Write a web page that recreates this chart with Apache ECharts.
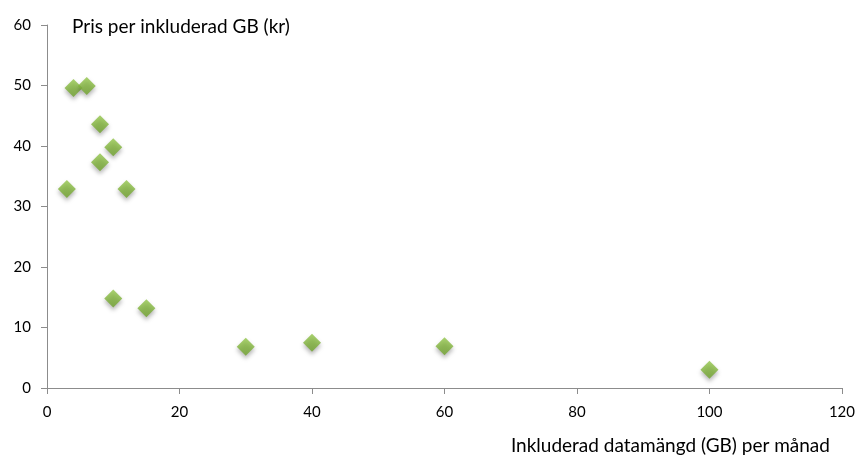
<!DOCTYPE html>
<html>
<head>
<meta charset="utf-8">
<script src="https://cdn.jsdelivr.net/npm/echarts@6/dist/echarts.min.js"></script>
<style>html,body{margin:0;padding:0;background:#fff}#c{width:858px;height:462px}</style>
</head>
<body>
<div id="c"></div>
<script>
const xValues = [3, 4, 6, 8, 8, 10, 12, 10, 15, 30, 40, 60, 100];
const yValues = [32.9, 49.6, 49.9, 43.6, 37.3, 39.8, 32.9, 14.8, 13.2, 6.8, 7.5, 6.9, 3.0];
const yTitle = 'Pris per inkluderad GB (kr)';
const xTitle = 'Inkluderad datamängd (GB) per månad';

const chart = echarts.init(document.getElementById('c'));
const font = 'Lato, "Open Sans", sans-serif';
chart.setOption({
  animation: false,
  grid: { left: 47, right: 16, top: 25, bottom: 74 },
  xAxis: {
    type: 'value', min: 0, max: 120, interval: 20,
    axisLine: { show: true, lineStyle: { color: '#8c8c8c', width: 1 } },
    axisTick: { show: true, length: 6, lineStyle: { color: '#8c8c8c' } },
    splitLine: { show: false },
    axisLabel: { color: '#000', fontSize: 15, fontFamily: font, margin: 17 },
    name: xTitle, nameLocation: 'end', nameGap: 0,
    nameTextStyle: { color: '#000', fontSize: 19, fontFamily: font, align: 'right', verticalAlign: 'top', padding: [48, 12, 0, 0] }
  },
  yAxis: {
    type: 'value', min: 0, max: 60, interval: 10,
    axisLine: { show: true, lineStyle: { color: '#8c8c8c', width: 1 } },
    axisTick: { show: true, length: 6, lineStyle: { color: '#8c8c8c' } },
    splitLine: { show: false },
    axisLabel: { color: '#000', fontSize: 15, fontFamily: font, margin: 16 },
    name: yTitle, nameLocation: 'end', nameGap: -2,
    nameTextStyle: { color: '#000', fontSize: 19, fontFamily: font, align: 'left', verticalAlign: 'middle', padding: [0, 0, 0, 25] }
  },
  series: [{
    type: 'scatter',
    symbol: 'diamond',
    symbolSize: 18,
    data: xValues.map((x, i) => [x, yValues[i]]),
    itemStyle: {
      color: new echarts.graphic.LinearGradient(0, 0, 0, 1, [
        { offset: 0, color: '#93c64a' },
        { offset: 1, color: '#6fa22c' }
      ]),
      shadowColor: 'rgba(0,0,0,0.35)', shadowBlur: 4, shadowOffsetY: 3, shadowOffsetX: 0
    }
  }]
});
</script>
</body>
</html>
